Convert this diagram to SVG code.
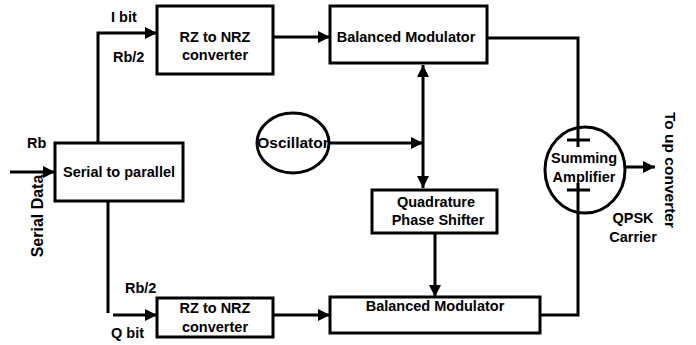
<svg xmlns="http://www.w3.org/2000/svg" width="696" height="345" viewBox="0 0 696 345">
<style>
.box{fill:#fff;stroke:#000;stroke-width:3}
.ln{fill:none;stroke:#000;stroke-width:3}
text{font-family:"Liberation Sans",Arial,sans-serif;font-size:14.5px;font-weight:bold;fill:#000}
.c{text-anchor:middle}
</style>
<defs>
<marker id="ah" viewBox="0 0 10 10" refX="10" refY="5" markerWidth="4" markerHeight="4" orient="auto" markerUnits="strokeWidth">
<path d="M0,0 L10,5 L0,10 Z" fill="#000"/>
</marker>
<marker id="as" viewBox="0 0 10 10" refX="10" refY="5" markerWidth="4" markerHeight="4" orient="auto-start-reverse" markerUnits="strokeWidth">
<path d="M0,0 L10,5 L0,10 Z" fill="#000"/>
</marker>
</defs>
<g id="connectors">
<path class="ln" d="M10,172 H55" stroke-width="2" marker-end="url(#ah)"/>
<path class="ln" d="M98,143 V33 H157" marker-end="url(#ah)"/>
<path class="ln" d="M108,201 V313"/>
<path class="ln" d="M113,315 H157" marker-end="url(#ah)"/>
<path class="ln" d="M273,37 H330" marker-end="url(#ah)"/>
<path class="ln" d="M273,315 H330" marker-end="url(#ah)"/>
<path class="ln" d="M423,65 V188" marker-start="url(#as)" marker-end="url(#as)"/>
<path class="ln" d="M329,143 H423" marker-end="url(#ah)"/>
<path class="ln" d="M435,233 V297" marker-end="url(#ah)"/>
<path class="ln" d="M487,38 H578 V147"/>
<path class="ln" d="M540,315 H578 V183"/>
<path class="ln" d="M625,167 H655" marker-end="url(#ah)"/>
</g>
<g id="serial">
<rect class="box" x="55" y="143" width="128" height="58"/>
<text class="c" x="119" y="177">Serial to parallel</text>
</g>
<g id="rz1">
<rect class="box" x="157" y="6" width="116" height="68"/>
<text class="c" x="215" y="42">RZ to NRZ</text>
<text class="c" x="215" y="60">converter</text>
</g>
<g id="rz2">
<rect class="box" x="157" y="298" width="116" height="39"/>
<text class="c" x="215" y="313">RZ to NRZ</text>
<text class="c" x="215" y="332">converter</text>
</g>
<g id="bm1">
<rect class="box" x="330" y="6" width="157" height="57"/>
<text class="c" x="406" y="42">Balanced Modulator</text>
</g>
<g id="bm2">
<rect class="box" x="330" y="297" width="210" height="36"/>
<text class="c" x="435" y="311">Balanced Modulator</text>
</g>
<g id="osc">
<ellipse cx="293" cy="143" rx="36" ry="30" fill="#fff" stroke="#000" stroke-width="3"/>
<text class="c" x="293" y="148" style="font-size:15.5px">Oscillator</text>
</g>
<g id="qps">
<rect class="box" x="372" y="190" width="125" height="43"/>
<text class="c" x="436" y="207">Quadrature</text>
<text class="c" x="438" y="225">Phase Shifter</text>
</g>
<g id="sum">
<ellipse cx="585" cy="170" rx="40" ry="43" fill="none" stroke="#000" stroke-width="3"/>
<text class="c" x="584" y="163">Summing</text>
<text class="c" x="584" y="182">Amplifier</text>
<path class="ln" d="M567,140 H590 M567,190 H590"/>
</g>
<g id="labels">
<text x="111" y="22">I bit</text>
<text x="113" y="62">Rb/2</text>
<text x="27" y="148">Rb</text>
<text x="125" y="293">Rb/2</text>
<text x="111" y="338">Q  bit</text>
<text class="c" transform="translate(43,216) rotate(-90)" style="font-size:16px">Serial Data</text>
<text class="c" transform="translate(665,170) rotate(90)" style="font-size:15.5px">To up converter</text>
<text class="c" x="633" y="223">QPSK</text>
<text class="c" x="633" y="242">Carrier</text>
</g>
</svg>
